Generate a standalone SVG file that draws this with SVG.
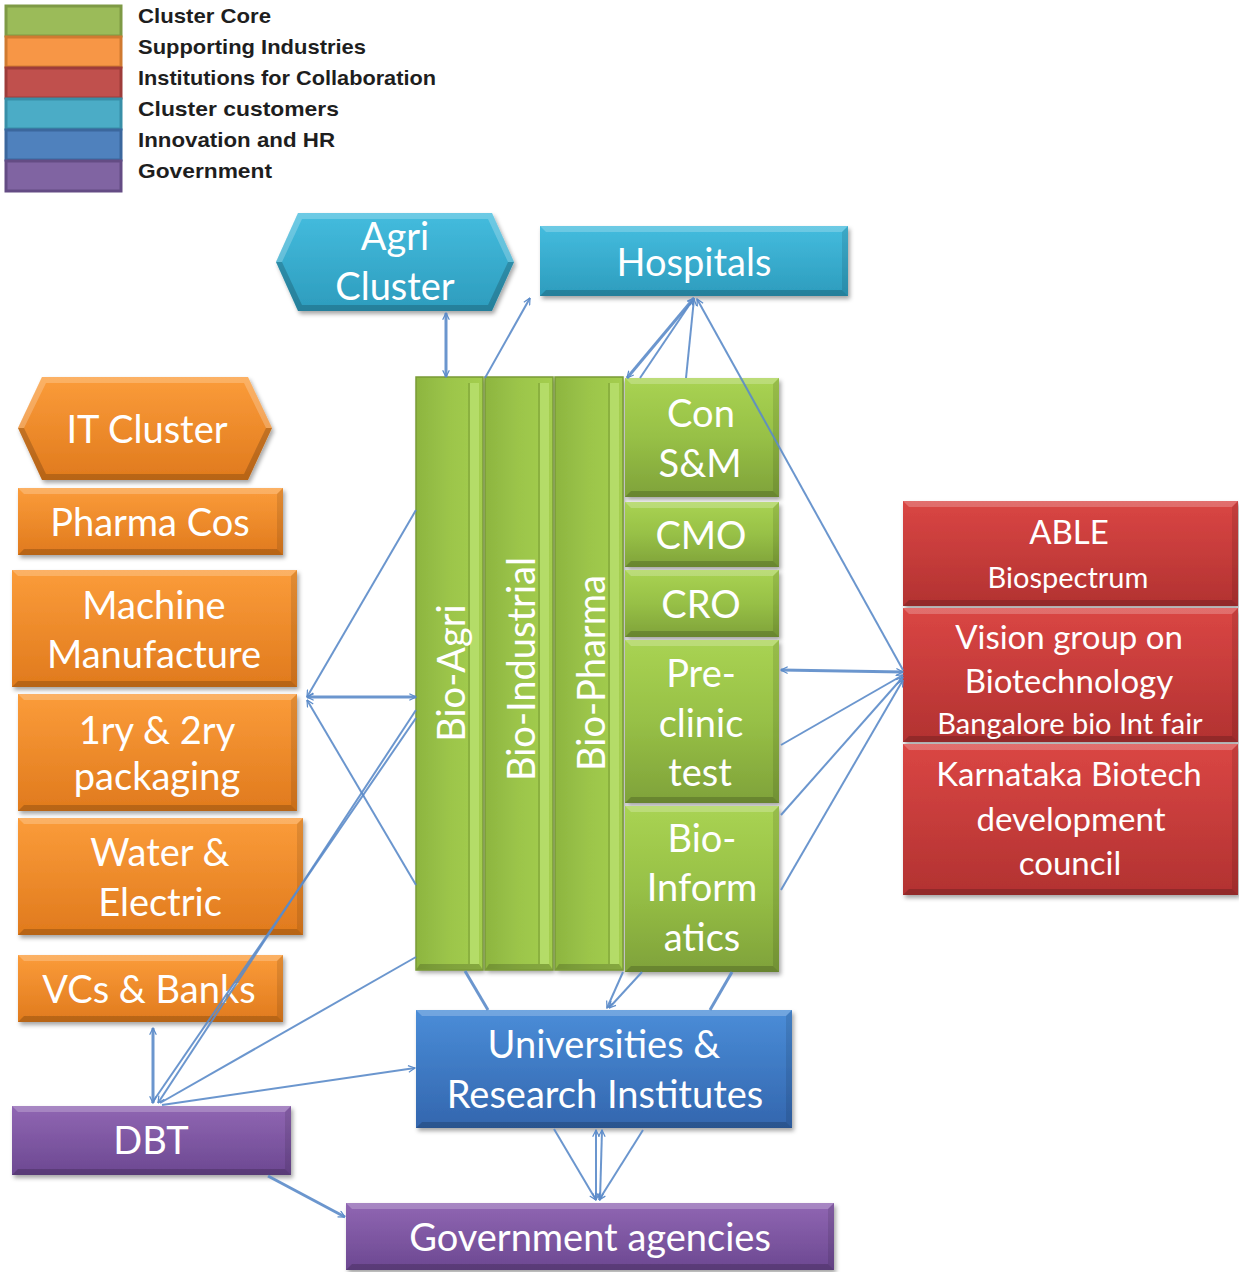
<svg xmlns="http://www.w3.org/2000/svg" width="1239" height="1272" viewBox="0 0 1239 1272">
<defs>
<linearGradient id="gGreen" x1="0" y1="0" x2="0" y2="1"><stop offset="0" stop-color="#A9D353"/><stop offset="0.5" stop-color="#97C046"/><stop offset="1" stop-color="#7FA23A"/></linearGradient>
<linearGradient id="gGreenV" x1="0" y1="0" x2="1" y2="0"><stop offset="0" stop-color="#8DB540"/><stop offset="0.5" stop-color="#9CC54A"/><stop offset="1" stop-color="#A4CE4F"/></linearGradient>
<linearGradient id="gOrange" x1="0" y1="0" x2="0" y2="1"><stop offset="0" stop-color="#FB9C3A"/><stop offset="1" stop-color="#E07A1D"/></linearGradient>
<linearGradient id="gRed" x1="0" y1="0" x2="0" y2="1"><stop offset="0" stop-color="#DA4644"/><stop offset="1" stop-color="#B23231"/></linearGradient>
<linearGradient id="gCyan" x1="0" y1="0" x2="0" y2="1"><stop offset="0" stop-color="#44BCDE"/><stop offset="1" stop-color="#2D9CBD"/></linearGradient>
<linearGradient id="gBlue" x1="0" y1="0" x2="0" y2="1"><stop offset="0" stop-color="#4A8DD8"/><stop offset="1" stop-color="#3366AE"/></linearGradient>
<linearGradient id="gPurple" x1="0" y1="0" x2="0" y2="1"><stop offset="0" stop-color="#9066B3"/><stop offset="1" stop-color="#6C4891"/></linearGradient>
<filter id="shadow" x="-5%" y="-5%" width="115%" height="120%"><feDropShadow dx="2" dy="3" stdDeviation="2" flood-color="#000" flood-opacity="0.35"/></filter>
<marker id="arr" viewBox="0 0 12 12" refX="11" refY="6" markerWidth="8" markerHeight="8" markerUnits="userSpaceOnUse" orient="auto-start-reverse"><path d="M1,1 L11,6 L1,11" fill="none" stroke="#5B8BC9" stroke-width="1.8"/></marker>
</defs>
<style>
.t{font-family:Lato,"Open Sans","Liberation Sans",sans-serif;fill:#fff;text-anchor:middle}
.lg{font-family:"Liberation Sans",Arial,sans-serif;font-weight:bold;font-size:21px;fill:#1e1e1e}
.hl{fill:#fff;opacity:.22}
.sh{fill:#000;opacity:.18}
.sl{fill:#000;opacity:.10}
.c{fill:none;stroke:#5B8BC9;stroke-width:2;stroke-opacity:.9}
.sw{stroke-width:3}
</style>

<g id="legend">
<rect x="6" y="6" width="115" height="30" fill="#9BBB59" stroke="#7E9A45" stroke-width="3"/>
<rect x="6" y="37" width="115" height="30" fill="#F79646" stroke="#D07A30" stroke-width="3"/>
<rect x="6" y="68" width="115" height="30" fill="#C0504D" stroke="#9E3C3A" stroke-width="3"/>
<rect x="6" y="99" width="115" height="30" fill="#4BACC6" stroke="#388FA8" stroke-width="3"/>
<rect x="6" y="130" width="115" height="30" fill="#4F81BD" stroke="#3B679D" stroke-width="3"/>
<rect x="6" y="161" width="115" height="30" fill="#8064A2" stroke="#644C84" stroke-width="3"/>
<text class="lg" x="138" y="23" textLength="133" lengthAdjust="spacingAndGlyphs">Cluster Core</text>
<text class="lg" x="138" y="54" textLength="228" lengthAdjust="spacingAndGlyphs">Supporting Industries</text>
<text class="lg" x="138" y="85" textLength="298" lengthAdjust="spacingAndGlyphs">Institutions for Collaboration</text>
<text class="lg" x="138" y="116" textLength="201" lengthAdjust="spacingAndGlyphs">Cluster  customers</text>
<text class="lg" x="138" y="147" textLength="197" lengthAdjust="spacingAndGlyphs">Innovation and HR</text>
<text class="lg" x="138" y="178" textLength="134" lengthAdjust="spacingAndGlyphs">Government</text>
</g>

<g id="agri-cluster">
<polygon points="276,262 298,213 492,213 514,262 492,311 298,311" fill="url(#gCyan)" filter="url(#shadow)"/>
<polygon class="hl" points="276,262 298,213 492,213 514,262 508,262 488,219 302,219 282,262"/>
<polygon class="sh" points="276,262 298,311 492,311 514,262 508,262 488,305 302,305 282,262"/>
<text class="t" font-size="38" x="395" y="250">Agri</text>
<text class="t" font-size="38" x="395" y="300">Cluster</text>
</g>

<g id="hospitals">
<rect x="540" y="226" width="308" height="70" fill="url(#gCyan)" filter="url(#shadow)"/>
<polygon class="hl" points="540,226 848,226 842,232 546,232"/>
<polygon class="sl" points="848,226 848,296 842,290 842,232"/>
<polygon class="sh" points="540,296 848,296 842,290 546,290"/>
<text class="t" font-size="38" x="694" y="276">Hospitals</text>
</g>

<g id="it-cluster">
<polygon points="18,428 42,377 248,377 272,428 248,480 42,480" fill="url(#gOrange)" filter="url(#shadow)"/>
<polygon class="hl" points="18,428 42,377 248,377 272,428 266,428 244,383 46,383 24,428"/>
<polygon class="sh" points="18,428 42,480 248,480 272,428 266,428 244,474 46,474 24,428"/>
<text class="t" font-size="38" x="147" y="443">IT Cluster</text>
</g>

<g id="pharma-cos">
<rect x="18" y="488" width="265" height="67" fill="url(#gOrange)" filter="url(#shadow)"/>
<polygon class="hl" points="18,488 283,488 277,494 24,494"/>
<polygon class="sl" points="283,488 283,555 277,549 277,494"/>
<polygon class="sh" points="18,555 283,555 277,549 24,549"/>
<text class="t" font-size="38" x="150" y="536">Pharma Cos</text>
</g>

<g id="machine-manufacture">
<rect x="12" y="570" width="285" height="117" fill="url(#gOrange)" filter="url(#shadow)"/>
<polygon class="hl" points="12,570 297,570 291,576 18,576"/>
<polygon class="sl" points="297,570 297,687 291,681 291,576"/>
<polygon class="sh" points="12,687 297,687 291,681 18,681"/>
<text class="t" font-size="38" x="154" y="619">Machine</text>
<text class="t" font-size="38" x="154" y="668">Manufacture</text>
</g>

<g id="packaging">
<rect x="18" y="694" width="279" height="117" fill="url(#gOrange)" filter="url(#shadow)"/>
<polygon class="hl" points="18,694 297,694 291,700 24,700"/>
<polygon class="sl" points="297,694 297,811 291,805 291,700"/>
<polygon class="sh" points="18,811 297,811 291,805 24,805"/>
<text class="t" font-size="38" x="157" y="744">1ry &amp; 2ry</text>
<text class="t" font-size="38" x="157" y="790">packaging</text>
</g>

<g id="water-electric">
<rect x="18" y="818" width="285" height="117" fill="url(#gOrange)" filter="url(#shadow)"/>
<polygon class="hl" points="18,818 303,818 297,824 24,824"/>
<polygon class="sl" points="303,818 303,935 297,929 297,824"/>
<polygon class="sh" points="18,935 303,935 297,929 24,929"/>
<text class="t" font-size="38" x="160" y="866">Water &amp;</text>
<text class="t" font-size="38" x="160" y="916">Electric</text>
</g>

<g id="vcs-banks">
<rect x="18" y="955" width="265" height="67" fill="url(#gOrange)" filter="url(#shadow)"/>
<polygon class="hl" points="18,955 283,955 277,961 24,961"/>
<polygon class="sl" points="283,955 283,1022 277,1016 277,961"/>
<polygon class="sh" points="18,1022 283,1022 277,1016 24,1016"/>
<text class="t" font-size="38" x="149" y="1003">VCs &amp; Banks</text>
</g>

<g id="dbt">
<rect x="12" y="1106" width="279" height="69" fill="url(#gPurple)" filter="url(#shadow)"/>
<polygon class="hl" points="12,1106 291,1106 285,1112 18,1112"/>
<polygon class="sl" points="291,1106 291,1175 285,1169 285,1112"/>
<polygon class="sh" points="12,1175 291,1175 285,1169 18,1169"/>
<text class="t" font-size="38" x="151" y="1154">DBT</text>
</g>

<g id="government-agencies">
<rect x="346" y="1203" width="488" height="67" fill="url(#gPurple)" filter="url(#shadow)"/>
<polygon class="hl" points="346,1203 834,1203 828,1209 352,1209"/>
<polygon class="sl" points="834,1203 834,1270 828,1264 828,1209"/>
<polygon class="sh" points="346,1270 834,1270 828,1264 352,1264"/>
<text class="t" font-size="38" x="590" y="1251">Government agencies</text>
</g>

<g id="universities">
<rect x="416" y="1010" width="376" height="118" fill="url(#gBlue)" filter="url(#shadow)"/>
<polygon class="hl" points="416,1010 792,1010 786,1016 422,1016"/>
<polygon class="sl" points="792,1010 792,1128 786,1122 786,1016"/>
<polygon class="sh" points="416,1128 792,1128 786,1122 422,1122"/>
<text class="t" font-size="38" x="604" y="1058">Universities &amp;</text>
<text class="t" font-size="38" x="605" y="1108">Research Institutes</text>
</g>

<g id="bio-agri">
<rect x="416" y="377" width="67" height="593" fill="url(#gGreenV)" filter="url(#shadow)"/>
<rect x="470" y="383" width="9" height="581" fill="#B9E06F" opacity=".8"/>
<line x1="469" y1="383" x2="469" y2="964" stroke="#6E8F2E" stroke-width="1.2" opacity=".7"/>
<polygon class="sh" points="416,970 483,970 479,964 420,964"/>
<rect x="416" y="377" width="67" height="593" fill="none" stroke="#7A9B36" stroke-width="1.5"/>
<text class="t" font-size="38" transform="rotate(-90 451 673)" x="451" y="687">Bio-Agri</text>
</g>

<g id="bio-industrial">
<rect x="485" y="377" width="68" height="593" fill="url(#gGreenV)" filter="url(#shadow)"/>
<rect x="540" y="383" width="9" height="581" fill="#B9E06F" opacity=".8"/>
<line x1="539" y1="383" x2="539" y2="964" stroke="#6E8F2E" stroke-width="1.2" opacity=".7"/>
<polygon class="sh" points="485,970 553,970 549,964 489,964"/>
<rect x="485" y="377" width="68" height="593" fill="none" stroke="#7A9B36" stroke-width="1.5"/>
<text class="t" font-size="38" transform="rotate(-90 521 669)" x="521" y="683">Bio-Industrial</text>
</g>

<g id="bio-pharma">
<rect x="555" y="377" width="68" height="593" fill="url(#gGreenV)" filter="url(#shadow)"/>
<rect x="610" y="383" width="9" height="581" fill="#B9E06F" opacity=".8"/>
<line x1="609" y1="383" x2="609" y2="964" stroke="#6E8F2E" stroke-width="1.2" opacity=".7"/>
<polygon class="sh" points="555,970 623,970 619,964 559,964"/>
<rect x="555" y="377" width="68" height="593" fill="none" stroke="#7A9B36" stroke-width="1.5"/>
<text class="t" font-size="38" transform="rotate(-90 591 673)" x="591" y="687">Bio-Pharma</text>
</g>

<g id="con-sm">
<rect x="625" y="378" width="154" height="119" fill="url(#gGreen)" filter="url(#shadow)"/>
<polygon class="hl" points="625,378 779,378 773,384 631,384"/>
<polygon class="sl" points="779,378 779,497 773,491 773,384"/>
<polygon class="sh" points="625,497 779,497 773,491 631,491"/>
<text class="t" font-size="38" x="701" y="427">Con</text>
<text class="t" font-size="38" x="700" y="477">S&amp;M</text>
</g>

<g id="cmo">
<rect x="625" y="502" width="154" height="65" fill="url(#gGreen)" filter="url(#shadow)"/>
<polygon class="hl" points="625,502 779,502 773,508 631,508"/>
<polygon class="sl" points="779,502 779,567 773,561 773,508"/>
<polygon class="sh" points="625,567 779,567 773,561 631,561"/>
<text class="t" font-size="38" x="701" y="549">CMO</text>
</g>

<g id="cro">
<rect x="625" y="570" width="154" height="67" fill="url(#gGreen)" filter="url(#shadow)"/>
<polygon class="hl" points="625,570 779,570 773,576 631,576"/>
<polygon class="sl" points="779,570 779,637 773,631 773,576"/>
<polygon class="sh" points="625,637 779,637 773,631 631,631"/>
<text class="t" font-size="38" x="701" y="618">CRO</text>
</g>

<g id="pre-clinic-test">
<rect x="625" y="640" width="154" height="163" fill="url(#gGreen)" filter="url(#shadow)"/>
<polygon class="hl" points="625,640 779,640 773,646 631,646"/>
<polygon class="sl" points="779,640 779,803 773,797 773,646"/>
<polygon class="sh" points="625,803 779,803 773,797 631,797"/>
<text class="t" font-size="38" x="701" y="687">Pre-</text>
<text class="t" font-size="38" x="701" y="737">clinic</text>
<text class="t" font-size="38" x="700" y="786">test</text>
</g>

<g id="bio-informatics">
<rect x="625" y="806" width="154" height="166" fill="url(#gGreen)" filter="url(#shadow)"/>
<polygon class="hl" points="625,806 779,806 773,812 631,812"/>
<polygon class="sl" points="779,806 779,972 773,966 773,812"/>
<polygon class="sh" points="625,972 779,972 773,966 631,966"/>
<text class="t" font-size="38" x="702" y="852">Bio-</text>
<text class="t" font-size="38" x="702" y="901">Inform</text>
<text class="t" font-size="38" x="702" y="951">atics</text>
</g>

<g id="able">
<rect x="903" y="501" width="335" height="105" fill="url(#gRed)" filter="url(#shadow)"/>
<polygon class="hl" points="903,501 1238,501 1232,507 909,507"/>
<polygon class="sl" points="1238,501 1238,606 1232,600 1232,507"/>
<polygon class="sh" points="903,606 1238,606 1232,600 909,600"/>
<text class="t" font-size="33" x="1069" y="544">ABLE</text>
<text class="t" font-size="29" x="1068" y="588">Biospectrum</text>
</g>

<g id="vision-group">
<rect x="903" y="608" width="335" height="134" fill="url(#gRed)" filter="url(#shadow)"/>
<polygon class="hl" points="903,608 1238,608 1232,614 909,614"/>
<polygon class="sl" points="1238,608 1238,742 1232,736 1232,614"/>
<polygon class="sh" points="903,742 1238,742 1232,736 909,736"/>
<text class="t" font-size="33" x="1069" y="649">Vision group on</text>
<text class="t" font-size="33" x="1069" y="693">Biotechnology</text>
<text class="t" font-size="29" x="1070" y="734">Bangalore bio Int fair</text>
</g>

<g id="karnataka">
<rect x="903" y="744" width="335" height="151" fill="url(#gRed)" filter="url(#shadow)"/>
<polygon class="hl" points="903,744 1238,744 1232,750 909,750"/>
<polygon class="sl" points="1238,744 1238,895 1232,889 1232,750"/>
<polygon class="sh" points="903,895 1238,895 1232,889 909,889"/>
<text class="t" font-size="33" x="1069" y="786">Karnataka Biotech</text>
<text class="t" font-size="33" x="1071" y="831">development</text>
<text class="t" font-size="33" x="1070" y="875">council</text>
</g>

<g id="connectors">
<line class="c sw" x1="446" y1="313" x2="446" y2="377" marker-start="url(#arr)" marker-end="url(#arr)"/>
<line class="c" x1="485" y1="378" x2="530" y2="298" marker-end="url(#arr)"/>
<line class="c sw" x1="694" y1="298" x2="627" y2="378" marker-start="url(#arr)" marker-end="url(#arr)"/>
<line class="c" x1="694" y1="298" x2="640" y2="378" marker-start="url(#arr)"/>
<line class="c" x1="686" y1="378" x2="694" y2="299" marker-end="url(#arr)"/>
<line class="c" x1="903" y1="670" x2="697" y2="299" marker-end="url(#arr)"/>
<line class="c sw" x1="307" y1="697" x2="416" y2="697" marker-start="url(#arr)" marker-end="url(#arr)"/>
<line class="c" x1="416" y1="510" x2="307" y2="697" marker-end="url(#arr)"/>
<line class="c" x1="416" y1="885" x2="307" y2="700" marker-end="url(#arr)"/>
<line class="c" x1="416" y1="710" x2="158" y2="1103" marker-end="url(#arr)"/>
<line class="c" x1="416" y1="718" x2="152" y2="1103"/>
<line class="c" x1="416" y1="957" x2="160" y2="1103"/>
<line class="c sw" x1="153" y1="1028" x2="153" y2="1103" marker-start="url(#arr)" marker-end="url(#arr)"/>
<line class="c" x1="162" y1="1105" x2="415" y2="1068" marker-end="url(#arr)"/>
<line class="c sw" x1="268" y1="1176" x2="345" y2="1217" marker-end="url(#arr)"/>
<line class="c sw" x1="465" y1="971" x2="488" y2="1010"/>
<line class="c" x1="623" y1="972" x2="607" y2="1008" marker-end="url(#arr)"/>
<line class="c" x1="642" y1="972" x2="609" y2="1008" marker-end="url(#arr)"/>
<line class="c sw" x1="732" y1="972" x2="710" y2="1010"/>
<line class="c" x1="554" y1="1129" x2="596" y2="1200" marker-end="url(#arr)"/>
<line class="c" x1="596" y1="1130" x2="596" y2="1200" marker-start="url(#arr)" marker-end="url(#arr)"/>
<line class="c" x1="602" y1="1130" x2="600" y2="1200" marker-start="url(#arr)" marker-end="url(#arr)"/>
<line class="c" x1="643" y1="1130" x2="599" y2="1200" marker-end="url(#arr)"/>
<line class="c sw" x1="781" y1="670" x2="903" y2="672" marker-start="url(#arr)" marker-end="url(#arr)"/>
<line class="c" x1="781" y1="745" x2="903" y2="675" marker-end="url(#arr)"/>
<line class="c" x1="781" y1="815" x2="903" y2="677" marker-end="url(#arr)"/>
<line class="c" x1="781" y1="890" x2="903" y2="680" marker-end="url(#arr)"/>
</g>
</svg>
